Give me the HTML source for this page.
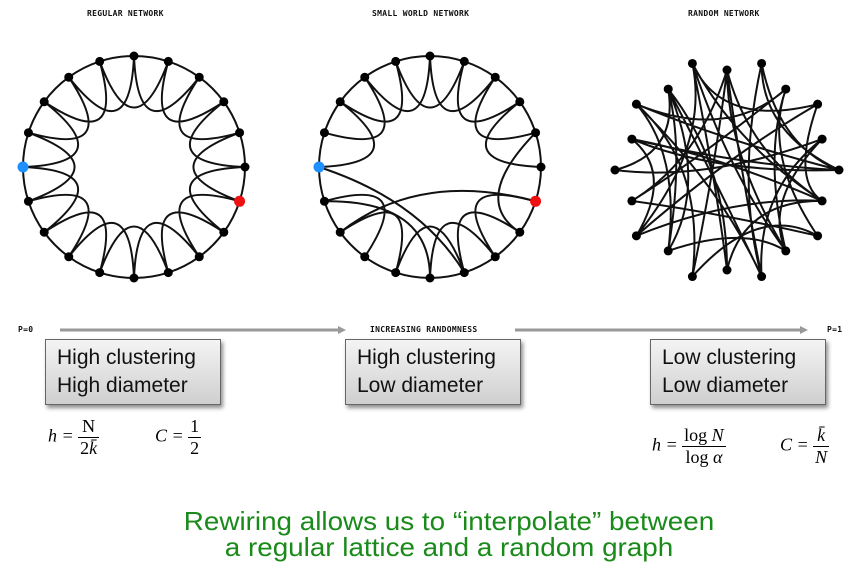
<!DOCTYPE html>
<html><head><meta charset="utf-8"><style>
body{margin:0;width:860px;height:575px;background:#fff;overflow:hidden;position:relative;font-family:"Liberation Sans",sans-serif}
.t{position:absolute;font-family:"DejaVu Sans Mono","Liberation Mono",monospace;font-size:8px;color:#111;letter-spacing:0.3px;font-weight:bold}
.box{position:absolute;width:176px;height:66px;border:1px solid #666;background:linear-gradient(#f4f4f4,#cfcfcf);box-shadow:2px 3px 4px rgba(0,0,0,.45);font-size:21px;line-height:28px;padding:4px 0 0 11px;box-sizing:border-box;color:#111}
.f{position:absolute;font-family:"Liberation Serif",serif;font-style:italic;font-size:18px}
.fr{display:inline-block;vertical-align:middle;text-align:center;font-style:normal}
.fr span{display:block;padding:0 2px}
.fr span.n{border-bottom:1px solid #000}
.green{position:absolute;left:0;width:898px;text-align:center;color:#1a8a1a;font-size:26px;line-height:26px;transform:scaleX(1.07);transform-origin:449px 0}
</style></head><body>
<svg id="s" width="860" height="575" style="position:absolute;left:0;top:0"></svg>
<div class="t" style="left:87px;top:9px">REGULAR NETWORK</div>
<div class="t" style="left:372px;top:9px">SMALL WORLD NETWORK</div>
<div class="t" style="left:688px;top:9px">RANDOM NETWORK</div>
<div class="t" style="left:18px;top:325px">P=0</div>
<div class="t" style="left:370px;top:325px">INCREASING RANDOMNESS</div>
<div class="t" style="left:827px;top:325px">P=1</div>
<div class="box" style="left:45px;top:339px">High clustering<br>High diameter</div>
<div class="box" style="left:345px;top:339px">High clustering<br>Low diameter</div>
<div class="box" style="left:650px;top:339px">Low clustering<br>Low diameter</div>
<div class="f" style="left:48px;top:416px">h = <span class="fr"><span class="n">N</span><span>2<i>k̄</i></span></span></div>
<div class="f" style="left:155px;top:416px">C = <span class="fr"><span class="n">1</span><span>2</span></span></div>
<div class="f" style="left:652px;top:425px">h = <span class="fr"><span class="n">log <i>N</i></span><span>log <i>α</i></span></span></div>
<div class="f" style="left:780px;top:425px">C = <span class="fr"><span class="n"><i>k̄</i></span><span><i>N</i></span></span></div>
<div class="green" style="top:508px">Rewiring allows us to “interpolate” between</div>
<div class="green" style="top:534px">a regular lattice and a random graph</div>
<script>
const s=document.getElementById('s');const NS='http://www.w3.org/2000/svg';
function el(t,a){const e=document.createElementNS(NS,t);for(const k in a)e.setAttribute(k,a[k]);s.appendChild(e);return e}
el('line',{x1:60,y1:330,x2:340,y2:330,stroke:'#999',"stroke-width":3});
el('polygon',{points:'338,326 346,330 338,334',fill:'#999'});
el('line',{x1:515,y1:330,x2:802,y2:330,stroke:'#999',"stroke-width":3});
el('polygon',{points:'800,326 808,330 800,334',fill:'#999'});
const N=20,R=111;
function pts(cx,cy){const p=[];for(let i=0;i<N;i++){const a=Math.PI/2-i*2*Math.PI/N;p.push([cx+R*Math.cos(a),cy-R*Math.sin(a)])}return p}
function lattice(cx,cy,skip){const p=pts(cx,cy);let d='';
for(let i=0;i<N;i++){const a=p[i],b=p[(i+1)%N];d+=`M${a[0]},${a[1]}A${R},${R} 0 0 1 ${b[0]},${b[1]}`;
 if(skip&&skip.includes(i))continue;
 const c=p[(i+2)%N];const m=Math.PI/2-(i+1)*2*Math.PI/N;const cr=0.12*R;
 d+=`M${a[0]},${a[1]}Q${cx+cr*Math.cos(m)},${cy-cr*Math.sin(m)} ${c[0]},${c[1]}`;}
el('path',{d:d,fill:'none',stroke:'#111',"stroke-width":2});return p}
function nodes(p,blue,red){p.forEach((q,i)=>el('circle',{cx:q[0],cy:q[1],r:i===blue||i===red?5.5:4.5,fill:i===blue?'#1e90ff':i===red?'#ee1111':'#000'}))}
let p=lattice(134,167);nodes(p,15,6);
p=lattice(430,167,[13,14,10,5,4]);
el('path',{d:`M${p[15][0]},${p[15][1]}Q420,200 ${p[9][0]},${p[9][1]}M${p[14][0]},${p[14][1]}Q430,200 ${p[10][0]},${p[10][1]}M${p[13][0]},${p[13][1]}Q420,170 ${p[6][0]},${p[6][1]}M${p[4][0]},${p[4][1]}Q470,200 ${p[7][0]},${p[7][1]}`,fill:'none',stroke:'#111',"stroke-width":2});
nodes(p,15,6);
const rp=[];for(let i=0;i<N;i++){const a=Math.PI/2-i*2*Math.PI/N;const r=i%2?112:100;rp.push([727+r*Math.cos(a),170-r*Math.sin(a)])}
let d='';let seed=7;function rnd(){seed=(seed*9301+49297)%233280;return seed/233280}
for(let i=0;i<N;i++)for(let k=0;k<2;k++){const j=(i+3+Math.floor(rnd()*14))%N;const a=rp[i],b=rp[j];const mx=(a[0]+b[0])/2,my=(a[1]+b[1])/2;const cx=mx+(727-mx)*0.5+(rnd()-0.5)*40,cy=my+(170-my)*0.5+(rnd()-0.5)*40;d+=`M${a[0]},${a[1]}Q${cx},${cy} ${b[0]},${b[1]}`}
el('path',{d:d,fill:'none',stroke:'#111',"stroke-width":2});
rp.forEach(q=>el('circle',{cx:q[0],cy:q[1],r:4.5,fill:'#000'}));
</script>
</body></html>
